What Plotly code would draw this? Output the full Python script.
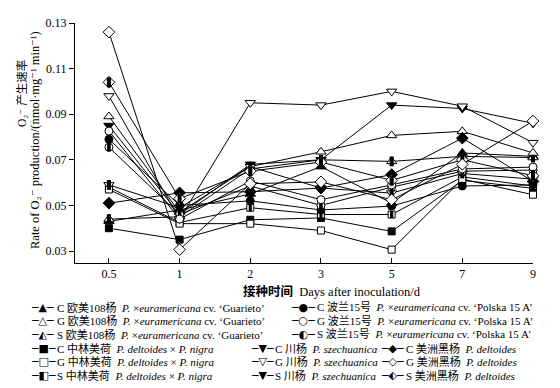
import plotly.graph_objects as go

# ---------------- data ----------------
days = ["0.5", "1", "2", "3", "5", "7", "9"]
y_ticks = [0.03, 0.05, 0.07, 0.09, 0.11, 0.13]

# 欧美108杨 (triangle-up)
oumei108_C = [0.043, 0.048, 0.055, 0.067, 0.051, 0.073, 0.0715]
oumei108_G = [0.089, 0.047, 0.067, 0.0735, 0.0807, 0.0825, 0.073]
oumei108_S = [0.044, 0.045, 0.066, 0.070, 0.0693, 0.0715, 0.071]
# 中林美荷 (square)
zhonglin_C = [0.040, 0.035, 0.0437, 0.0445, 0.0386, 0.061, 0.0575]
zhonglin_G = [0.057, 0.042, 0.042, 0.039, 0.0306, 0.0615, 0.0547]
zhonglin_S = [0.058, 0.0425, 0.049, 0.046, 0.046, 0.0625, 0.0585]
# 川杨 (triangle-down)
chuanyang_C = [0.085, 0.046, 0.068, 0.070, 0.094, 0.0925, 0.086]
chuanyang_G = [0.098, 0.044, 0.095, 0.094, 0.100, 0.0935, 0.0775]
chuanyang_S = [0.059, 0.049, 0.067, 0.0576, 0.0554, 0.064, 0.0615]
# 波兰15号 (circle)
bolan_C = [0.079, 0.050, 0.052, 0.048, 0.0497, 0.0585, 0.059]
bolan_G = [0.0826, 0.044, 0.0607, 0.0525, 0.059, 0.066, 0.0668]
bolan_S = [0.0755, 0.046, 0.0585, 0.050, 0.058, 0.065, 0.0655]
# 美洲黑杨 (diamond)
meizhou_C = [0.051, 0.0555, 0.056, 0.0576, 0.0635, 0.0795, 0.0605]
meizhou_G = [0.126, 0.0306, 0.0595, 0.0603, 0.0525, 0.068, 0.087]
meizhou_S = [0.104, 0.053, 0.065, 0.069, 0.061, 0.070, 0.063]

treatments = ["C", "G", "S"]
clones_cn = ["欧美108杨", "中林美荷", "川杨", "波兰15号", "美洲黑杨"]
clones_latin = [
    "<i>P.</i> ×<i>euramericana</i> cv. ‘Guarieto’",
    "<i>P. deltoides</i> × <i>P. nigra</i>",
    "<i>P. szechuanica</i>",
    "<i>P.</i> ×<i>euramericana</i> cv. ‘Polska 15 A’",
    "<i>P. deltoides</i>",
]
clone_values = [
    [oumei108_C, oumei108_G, oumei108_S],
    [zhonglin_C, zhonglin_G, zhonglin_S],
    [chuanyang_C, chuanyang_G, chuanyang_S],
    [bolan_C, bolan_G, bolan_S],
    [meizhou_C, meizhou_G, meizhou_S],
]

# ---------------- styles ----------------
symbols = ["triangle-up", "square", "triangle-down", "circle", "diamond"]
sizes = [9, 7, 9, 8, 9]
legend_glyphs = [
    ["▲", "△", "◭"],
    ["■", "□", "◧"],
    ["▼", "▽", "▼"],
    ["●", "○", "◐"],
    ["◆", "◇", "⬖"],
]
FONT = "Liberation Serif, DejaVu Serif, Noto Sans CJK SC, serif"

# plot area in pixels
W, H = 560, 388
L, R, T, B = 67, 35, 15, 133
PW, PH = W - L - R, H - T - B


def px_x(x):
    return (x - L) / PW


def px_y(y):
    return (H - B - y) / PH


fig = go.Figure()

# draw order: C, S, G for each clone
for ci in range(5):
    for ti in [0, 2, 1]:
        vals = clone_values[ci][ti]
        fill = "black" if ti == 0 else "white"
        fig.add_trace(go.Scatter(
            x=days, y=vals, mode="lines+markers",
            line=dict(color="black", width=1),
            marker=dict(symbol=symbols[ci], size=sizes[ci], color=fill,
                        line=dict(color="black", width=1)),
            cliponaxis=False, showlegend=False, hoverinfo="skip",
        ))
        if ti == 2:
            fig.add_trace(go.Scatter(
                x=days, y=vals, mode="markers",
                marker=dict(symbol="line-ns", size=sizes[ci] - 2,
                            line=dict(color="black", width=sizes[ci] / 2.2)),
                cliponaxis=False, showlegend=False, hoverinfo="skip",
            ))

annotations = []

# y-axis titles (two lines)
annotations.append(dict(
    text="O₂⁻ 产生速率", textangle=-90,
    xref="paper", yref="paper", x=px_x(14), y=px_y(86),
    showarrow=False, font=dict(family=FONT, size=11.5, color="black"),
    xanchor="center", yanchor="middle"))
annotations.append(dict(
    text="Rate of O₂⁻ production/(nmol·mg⁻¹ min⁻¹)",
    textangle=-90,
    xref="paper", yref="paper", x=px_x(27), y=px_y(132),
    showarrow=False, font=dict(family=FONT, size=12.5, color="black"),
    xanchor="center", yanchor="middle"))

# x-axis title
annotations.append(dict(
    text="<b>接种时间</b>  Days after inoculation/d",
    xref="paper", yref="paper", x=px_x(233), y=px_y(283),
    showarrow=False, font=dict(family=FONT, size=12.5, color="black"),
    xanchor="left", yanchor="middle"))

# legend (manual layout)
row_y = [299, 312.5, 326, 340, 353.5, 367]
legend_pos = [  # (glyph_x, text_x, first_row)
    (21, 47, 0),
    (21, 47, 3),
    (241, 265, 3),
    (281, 307, 0),
    (371, 396, 3),
]
for ci in range(5):
    gx, tx, r0 = legend_pos[ci]
    for ti in range(3):
        y = row_y[r0 + ti]
        annotations.append(dict(
            text="─" + legend_glyphs[ci][ti] + "─",
            xref="paper", yref="paper", x=px_x(gx), y=px_y(y),
            showarrow=False, xanchor="left", yanchor="middle",
            font=dict(family="DejaVu Sans", size=11, color="black")))
        annotations.append(dict(
            text=treatments[ti] + " " + clones_cn[ci] + "  " + clones_latin[ci],
            xref="paper", yref="paper", x=px_x(tx), y=px_y(y),
            showarrow=False, xanchor="left", yanchor="middle",
            font=dict(family=FONT, size=11, color="black")))

fig.update_layout(
    template="none",
    width=W, height=H,
    margin=dict(l=L, r=R, t=T, b=B),
    paper_bgcolor="white", plot_bgcolor="white",
    showlegend=False,
    font=dict(family=FONT, size=12, color="black"),
    annotations=annotations,
    xaxis=dict(type="category", range=[-0.48, 6.0], showline=True,
               linecolor="black", linewidth=1, ticks="inside", ticklen=5,
               tickcolor="black", showgrid=False, zeroline=False,
               automargin=False, tickfont=dict(family=FONT, size=12)),
    yaxis=dict(range=[0.02474, 0.13], tickvals=y_ticks, tickformat=".2f",
               showline=True, linecolor="black", linewidth=1,
               ticks="outside", ticklen=5, tickcolor="black",
               showgrid=False, zeroline=False, automargin=False,
               tickfont=dict(family=FONT, size=12)),
)

fig.write_html("out.html")
